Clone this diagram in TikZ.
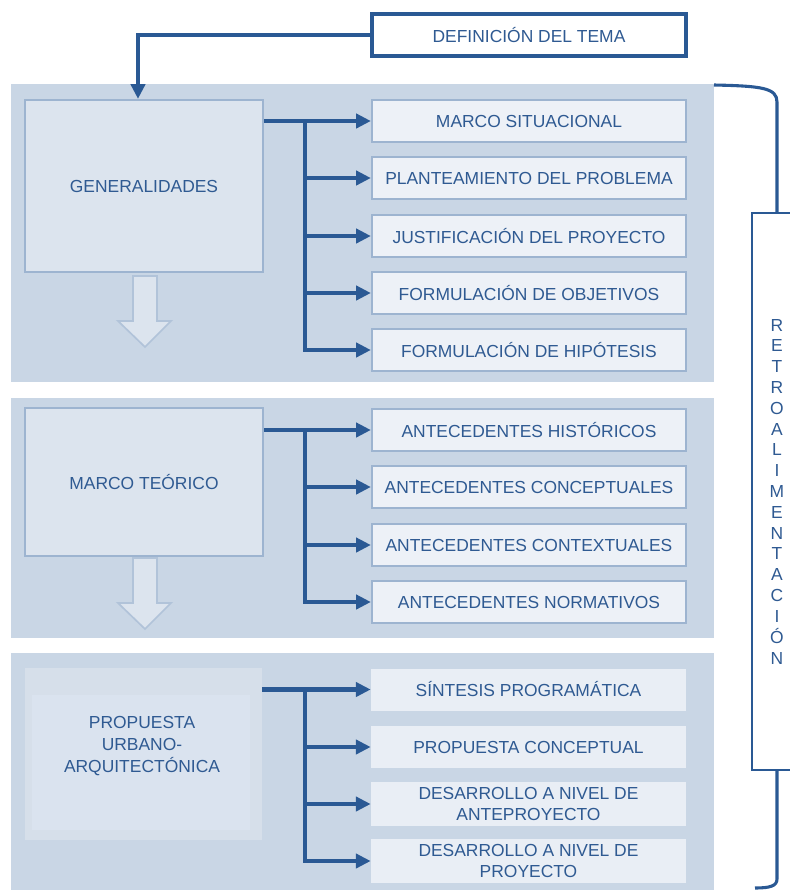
\documentclass[tikz,border=0pt]{standalone}
\usepackage{fontspec}
\setmainfont{Liberation Sans}
\usepackage{tikz}
\usetikzlibrary{arrows.meta}
\definecolor{panelblue}{HTML}{C9D6E5}
\definecolor{boxblue}{HTML}{DCE4EE}
\definecolor{itemblue}{HTML}{EDF1F7}
\definecolor{plainblue}{HTML}{E9EEF5}
\definecolor{propouter}{HTML}{D6DFEA}
\definecolor{propinner}{HTML}{DAE3EF}
\definecolor{edgeblue}{HTML}{9DB4D0}
\definecolor{linkblue}{HTML}{2A5994}
\definecolor{textblue}{HTML}{2F5A92}
\tikzset{>={Triangle[length=10.5pt,width=10pt]}}
\tikzset{
  every node/.style={font=\fontsize{12.4}{15.6}\selectfont,text=textblue,align=center},
  defbox/.style={draw=linkblue,line width=2.8pt,fill=white,minimum width=7.85cm,minimum height=1.05cm},
  bigbox/.style={draw=edgeblue,line width=1.5pt,fill=boxblue,minimum width=5.95cm},
  itembox/.style={draw=edgeblue,line width=1.5pt,fill=itemblue,minimum width=7.85cm,minimum height=1.05cm},
  plainbox/.style={fill=plainblue,minimum width=7.875cm,minimum height=1.05cm},
  propbox/.style={fill=propouter,minimum width=5.925cm,minimum height=4.3cm},
  retrobox/.style={draw=linkblue,line width=1.4pt,fill=white,minimum width=1.25cm,minimum height=13.925cm,
    font=\fontsize{12.4}{14.8}\selectfont},
  link/.style={linkblue,line width=3pt},
  blockarrow/.style={fill=boxblue,draw=edgeblue!80!white,line width=1.2pt},
}

\begin{document}
\begin{tikzpicture}[x=0.025cm,y=-0.025cm]
    \useasboundingbox (0,0) rectangle (790,890);
    % panels
    \fill[panelblue] (11,84) rectangle (714,382);
    \fill[panelblue] (11,398) rectangle (714,638);
    \fill[panelblue] (11,653) rectangle (714,890);
    \node[defbox] (def) at (529,35) {DEFINICIÓN DEL TEMA};
    % generalidades
    \node[bigbox,minimum height=4.3cm] (gen) at (144,186) {GENERALIDADES};
    \node[itembox] (sit) at (529,121) {MARCO SITUACIONAL};
    \node[itembox] (pla) at (529,178) {PLANTEAMIENTO DEL PROBLEMA};
    \node[itembox] (jus) at (529,236) {JUSTIFICACIÓN DEL PROYECTO};
    \node[itembox] (obj) at (529,293) {FORMULACIÓN DE OBJETIVOS};
    \node[itembox] (hip) at (529,350) {FORMULACIÓN DE HIPÓTESIS};
    \draw[link,->] (def.west) -| ([xshift=-0.15cm]gen.north);
    \draw[link,->] (gen.east |- sit.west) -- (sit.west);
    \coordinate (gj) at (305,121);
    \draw[link,->] (gj) |- (hip.west);
    \draw[link,->] (gj |- pla.west) -- (pla.west);
    \draw[link,->] (gj |- jus.west) -- (jus.west);
    \draw[link,->] (gj |- obj.west) -- (obj.west);
    \draw[blockarrow] (133,276) -- ++(24,0) -- ++(0,45) -- ++(14,0) -- ++(-26,26) -- ++(-27,-26) -- ++(15,0) -- cycle;
    % marco teorico
    \node[bigbox,minimum height=3.7cm] (teo) at (144,482) {MARCO TEÓRICO};
    \node[itembox] (his) at (529,430) {ANTECEDENTES HISTÓRICOS};
    \node[itembox] (con) at (529,487) {ANTECEDENTES CONCEPTUALES};
    \node[itembox] (ctx) at (529,545) {ANTECEDENTES CONTEXTUALES};
    \node[itembox] (nor) at (529,602) {ANTECEDENTES NORMATIVOS};
    \draw[link,->] (teo.east |- his.west) -- (his.west);
    \coordinate (tj) at (305,430);
    \draw[link,->] (tj) |- (nor.west);
    \draw[link,->] (tj |- con.west) -- (con.west);
    \draw[link,->] (tj |- ctx.west) -- (ctx.west);
    \draw[blockarrow] (133,558) -- ++(24,0) -- ++(0,45) -- ++(14,0) -- ++(-26,26) -- ++(-27,-26) -- ++(15,0) -- cycle;
    % propuesta
    \node[propbox] (prop) at (143.5,754) {};
    \fill[propinner] (32,695) rectangle (250,830);
    \node (proptxt) at (142,746) {PROPUESTA\\URBANO-\\ARQUITECTÓNICA};
    \node[plainbox] (sin) at (528.5,689.5) {SÍNTESIS PROGRAMÁTICA};
    \node[plainbox] (pcon) at (528.5,747) {PROPUESTA CONCEPTUAL};
    \node[plainbox] (ant) at (528.5,804) {DESARROLLO A NIVEL DE\\ANTEPROYECTO};
    \node[plainbox] (pro) at (528.5,861) {DESARROLLO A NIVEL DE\\PROYECTO};
    \draw[link,->] (prop.east |- sin.west) -- (sin.west);
    \coordinate (pj) at (305,689.5);
    \draw[link,->] (pj) |- (pro.west);
    \draw[link,->] (pj |- pcon.west) -- (pcon.west);
    \draw[link,->] (pj |- ant.west) -- (ant.west);
    % retroalimentacion
    \node[retrobox] (retro) at (777,491.5) {R\\E\\T\\R\\O\\A\\L\\I\\M\\E\\N\\T\\A\\C\\I\\Ó\\N};
    \draw[link,line width=2.2pt] (714,85) .. controls (762,86) and (777,88) .. (777,102) -- (retro.north);
    \draw[link,line width=2.2pt] (retro.south) -- (777,879) .. controls (777,886) and (770,888) .. (755,888);
\end{tikzpicture}
\end{document}
